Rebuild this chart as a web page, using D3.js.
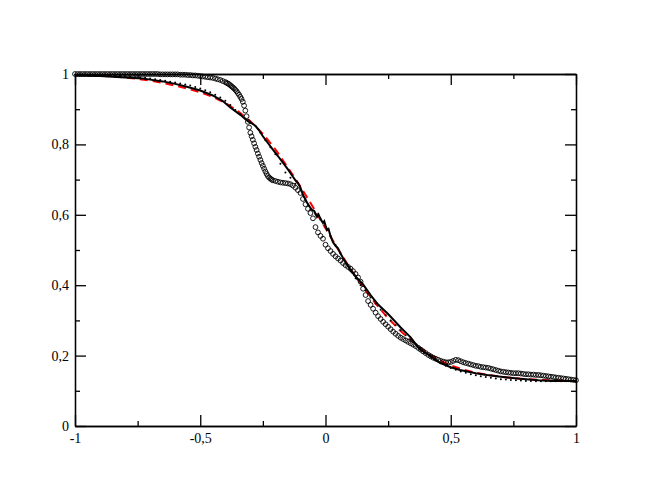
<!DOCTYPE html>
<html>
<head>
<meta charset="utf-8">
<script src="https://cdn.jsdelivr.net/npm/d3@7"></script>
<style>
  body { margin: 0; background: #fff; }
  .axis text { font-family: "Liberation Serif", "Times New Roman", serif; font-size: 14px; fill: #000; }
  .axis path, .axis line { stroke: #000; stroke-width: 1.3; }
</style>
</head>
<body>
<div id="chart"></div>
<script>
var margin = {top: 74, bottom: 75, left: 75, right: 72};
var width = 648 - margin.left - margin.right;
var height = 501 - margin.top - margin.bottom;

// tick values and labels (decimal comma as in the original)
var xMajor = [-1, -0.5, 0, 0.5, 1];
var xTickLabels = ["-1", "-0,5", "0", "0,5", "1"];
var xMinor = [-0.75, -0.25, 0.25, 0.75];
var yMajor = [0, 0.2, 0.4, 0.6, 0.8, 1];
var yTickLabels = ["0", "0,2", "0,4", "0,6", "0,8", "1"];
var yMinor = [0.1, 0.3, 0.5, 0.7, 0.9];

// red dashed reference curve, x every 0.05
var redX = [-1, -0.95, -0.9, -0.85, -0.8, -0.75, -0.7, -0.65, -0.6, -0.55, -0.5, -0.45, -0.4, -0.35, -0.3, -0.25, -0.2, -0.15, -0.1, -0.05,
            0, 0.05, 0.1, 0.15, 0.2, 0.25, 0.3, 0.35, 0.4, 0.45, 0.5, 0.55, 0.6, 0.65, 0.7, 0.75, 0.8, 0.85, 0.9, 0.95, 1];
var redY = [0.997, 0.996, 0.995, 0.993, 0.99, 0.986, 0.981, 0.975, 0.967, 0.958, 0.948, 0.935, 0.918, 0.895, 0.866, 0.83, 0.786, 0.734, 0.68, 0.622,
            0.562, 0.502, 0.446, 0.395, 0.348, 0.306, 0.27, 0.238, 0.211, 0.189, 0.172, 0.16, 0.151, 0.145, 0.14, 0.136, 0.133, 0.131, 0.13, 0.129, 0.128];

// black solid line
var blackX = [-1, -0.9, -0.8, -0.73, -0.7, -0.65, -0.6, -0.55, -0.5, -0.45,
              -0.41, -0.38, -0.34, -0.31, -0.295, -0.28, -0.265, -0.25, -0.23, -0.21,
              -0.19, -0.17, -0.15, -0.13, -0.12, -0.11, -0.1, -0.09, -0.074, -0.062,
              -0.054, -0.045, -0.04, -0.034, -0.028, -0.02, -0.01, -0.005, 0, 0.006,
              0.012, 0.02, 0.03, 0.04, 0.05, 0.06, 0.07, 0.085, 0.1, 0.12,
              0.15, 0.18, 0.21, 0.25, 0.3, 0.34, 0.377, 0.417, 0.457, 0.5,
              0.537, 0.6, 0.645, 0.7, 0.776, 0.85, 0.908, 1];
var blackY = [0.996, 0.994, 0.99, 0.987, 0.984, 0.979, 0.972, 0.963, 0.953, 0.939,
              0.923, 0.905, 0.884, 0.866, 0.86, 0.853, 0.84, 0.823, 0.804, 0.785,
              0.767, 0.748, 0.729, 0.708, 0.698, 0.69, 0.677, 0.657, 0.635, 0.622,
              0.614, 0.611, 0.603, 0.594, 0.601, 0.588, 0.577, 0.582, 0.57, 0.557,
              0.56, 0.54, 0.522, 0.512, 0.505, 0.49, 0.477, 0.46, 0.443, 0.425,
              0.402, 0.372, 0.345, 0.318, 0.28, 0.252, 0.217, 0.2, 0.179, 0.167,
              0.159, 0.15, 0.145, 0.14, 0.134, 0.13, 0.128, 0.128];

// small dots, x from -1 every 0.02
var dotStart = -1, dotStep = 0.02;
var dotY = [0.998, 0.998, 0.998, 0.997, 0.997, 0.996, 0.996, 0.995, 0.995, 0.994,
            0.993, 0.992, 0.991, 0.990, 0.989, 0.987, 0.985, 0.983, 0.981, 0.978,
            0.976, 0.973, 0.970, 0.967, 0.963, 0.959, 0.954, 0.948, 0.941, 0.933,
            0.924, 0.912, 0.898, 0.886, 0.873, 0.862, 0.852, 0.833, 0.812, 0.792,
            0.772, 0.745, 0.720, 0.705, 0.688, 0.672, 0.645, 0.615, 0.602, 0.590,
            0.565, 0.540, 0.515, 0.490, 0.462, 0.440, 0.420, 0.400, 0.385, 0.365,
            0.348, 0.330, 0.315, 0.300, 0.286, 0.272, 0.258, 0.245, 0.232, 0.220,
            0.208, 0.197, 0.187, 0.178, 0.171, 0.165, 0.160, 0.155, 0.151, 0.147,
            0.144, 0.141, 0.139, 0.137, 0.135, 0.133, 0.132, 0.131, 0.130, 0.129,
            0.128, 0.128, 0.127, 0.127, 0.127, 0.127, 0.127, 0.127, 0.127, 0.127,
            0.127];

// open circles, read in three stretches (finer sampling on the steep part)
var circA = {start: -1, step: 0.01, y: [
  1, 1, 1, 1, 1, 1, 1, 1, 1, 1,
  1, 1, 1, 1, 1, 1, 1, 1, 1, 1,
  1, 1, 1, 1, 1, 1, 1, 1, 1, 1,
  1, 1, 1, 1, 0.999, 0.999, 0.999, 0.999, 0.999, 0.999,
  0.999, 0.999, 0.998, 0.998, 0.998, 0.997, 0.997, 0.996, 0.996, 0.995,
  0.994, 0.993, 0.992, 0.991, 0.990, 0.989, 0.987, 0.985, 0.983, 0.980,
  0.977]};
var circB = {start: -0.395, step: 0.005, y: [
  0.975, 0.973, 0.971, 0.968, 0.965, 0.962, 0.959, 0.955, 0.951, 0.946,
  0.941, 0.935, 0.929, 0.921, 0.91, 0.896, 0.88, 0.864, 0.848, 0.833,
  0.823, 0.813, 0.803, 0.793, 0.784, 0.774, 0.765, 0.756, 0.747, 0.739,
  0.731, 0.723, 0.716, 0.71, 0.706, 0.703, 0.70]};
var circC = {start: -0.21, step: 0.01, y: [
  0.698, 0.696, 0.694, 0.692, 0.691, 0.690, 0.689, 0.687, 0.683, 0.677,
  0.670, 0.662, 0.645, 0.630, 0.617, 0.605, 0.590, 0.565, 0.550, 0.540,
  0.532, 0.515, 0.505, 0.497, 0.489, 0.482, 0.476, 0.470, 0.463, 0.457,
  0.452, 0.447, 0.440, 0.432, 0.422, 0.410, 0.390, 0.372, 0.355, 0.344,
  0.333, 0.322, 0.312, 0.304, 0.296, 0.289, 0.282, 0.275, 0.268, 0.262,
  0.256, 0.251, 0.247, 0.243, 0.239, 0.235, 0.231, 0.227, 0.222, 0.217,
  0.212, 0.207, 0.202, 0.198, 0.194, 0.191, 0.188, 0.185, 0.183, 0.181,
  0.181, 0.182, 0.185, 0.188, 0.187, 0.184, 0.181, 0.179, 0.177, 0.175,
  0.173, 0.171, 0.170, 0.168, 0.167, 0.166, 0.165, 0.163, 0.161, 0.159,
  0.157, 0.155, 0.154, 0.153, 0.152, 0.151, 0.150, 0.150, 0.150, 0.149,
  0.148, 0.147, 0.147, 0.146, 0.146, 0.145, 0.145, 0.144, 0.143, 0.142,
  0.141, 0.140, 0.139, 0.138, 0.137, 0.136, 0.135, 0.134, 0.133, 0.132,
  0.131, 0.130]};

var svg = d3.select("#chart")
            .append("svg")
            .attr("width", 648)
            .attr("height", 501)
            .style("background", "#fff");

var g = svg.append("g")
           .attr("transform", "translate(" + margin.left + "," + margin.top + ")");

var xScale = d3.scaleLinear().domain([-1, 1]).range([0, width]);
var yScale = d3.scaleLinear().domain([0, 1]).range([height, 0]);

function pairs(xs, ys) {
  return ys.map(function(v, i) { return [xs[i], v]; });
}
function grid(seg) {
  return seg.y.map(function(v, i) { return [seg.start + i * seg.step, v]; });
}

var line = d3.line()
             .x(function(d) { return xScale(d[0]); })
             .y(function(d) { return yScale(d[1]); });

//red dashed
g.append("path")
  .datum(pairs(redX, redY))
  .attr("d", line)
  .attr("fill", "none")
  .attr("stroke", "#ff0000")
  .attr("stroke-width", 2)
  .attr("stroke-dasharray", "8,5");

//black line
g.append("path")
  .datum(pairs(blackX, blackY))
  .attr("d", line)
  .attr("fill", "none")
  .attr("stroke", "#000")
  .attr("stroke-width", 2);

//dots
var dots = dotY.map(function(v, i) { return [dotStart + i * dotStep, v]; });
g.selectAll(".dot")
  .data(dots)
  .enter().append("circle")
  .attr("class", "dot")
  .attr("cx", function(d) { return xScale(d[0]); })
  .attr("cy", function(d) { return yScale(d[1]); })
  .attr("r", 1)
  .attr("fill", "#000");

//open circles
var circles = grid(circA).concat(grid(circB)).concat(grid(circC));
g.selectAll(".circ")
  .data(circles)
  .enter().append("circle")
  .attr("class", "circ")
  .attr("cx", function(d) { return xScale(d[0]); })
  .attr("cy", function(d) { return yScale(d[1]); })
  .attr("r", 2.4)
  .attr("fill", "none")
  .attr("stroke", "#000")
  .attr("stroke-width", 0.9);

//Axes: major ticks with labels, minor ticks, mirrored on top/right
function addAxis(axis, transform) {
  g.append("g").attr("class", "axis").attr("transform", transform).call(axis);
}
addAxis(d3.axisBottom(xScale).tickValues(xMajor).tickSizeInner(-11).tickSizeOuter(0).tickPadding(7)
          .tickFormat(function(d, i) { return xTickLabels[i]; }), "translate(0," + height + ")");
addAxis(d3.axisBottom(xScale).tickValues(xMinor).tickSizeInner(-5).tickSizeOuter(0).tickFormat(""), "translate(0," + height + ")");
addAxis(d3.axisTop(xScale).tickValues(xMajor).tickSizeInner(-11).tickSizeOuter(0).tickFormat(""), "translate(0,0)");
addAxis(d3.axisTop(xScale).tickValues(xMinor).tickSizeInner(-5).tickSizeOuter(0).tickFormat(""), "translate(0,0)");
addAxis(d3.axisLeft(yScale).tickValues(yMajor).tickSizeInner(-11).tickSizeOuter(0).tickPadding(6)
          .tickFormat(function(d, i) { return yTickLabels[i]; }), "translate(0,0)");
addAxis(d3.axisLeft(yScale).tickValues(yMinor).tickSizeInner(-5).tickSizeOuter(0).tickFormat(""), "translate(0,0)");
addAxis(d3.axisRight(yScale).tickValues(yMajor).tickSizeInner(-11).tickSizeOuter(0).tickFormat(""), "translate(" + width + ",0)");
addAxis(d3.axisRight(yScale).tickValues(yMinor).tickSizeInner(-5).tickSizeOuter(0).tickFormat(""), "translate(" + width + ",0)");
</script>
</body>
</html>
